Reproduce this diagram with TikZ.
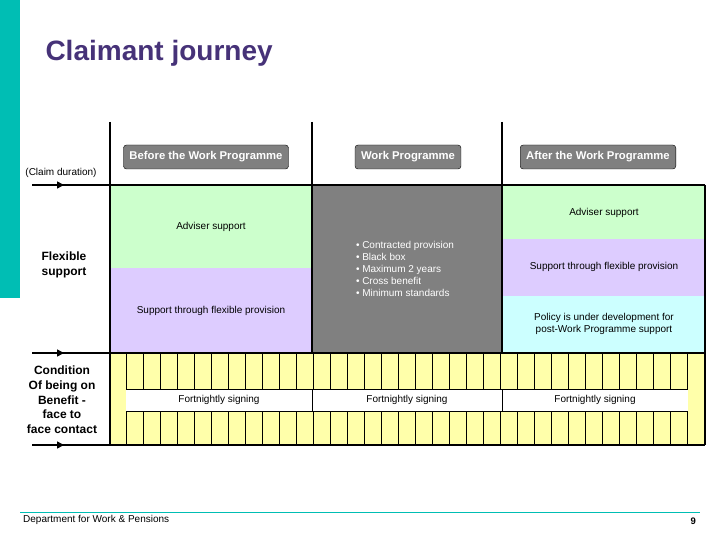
\documentclass[tikz,border=0pt]{standalone}
\usepackage{fontspec}
\setmainfont{Liberation Sans}
\usetikzlibrary{arrows.meta,calc}
\definecolor{teal1}{RGB}{0,190,180}
\definecolor{titc}{RGB}{70,50,120}
\definecolor{grn}{RGB}{204,255,204}
\definecolor{pur}{RGB}{221,204,255}
\definecolor{cyn}{RGB}{204,255,255}
\definecolor{gry}{RGB}{128,128,128}
\definecolor{yel}{RGB}{255,255,170}
\begin{document}
\begin{tikzpicture}[x=1pt,y=-1pt,
  txt/.style={font=\fontsize{10}{12}\selectfont,align=center,inner sep=0},
  bold/.style={font=\fontsize{12}{14.7}\selectfont\bfseries,align=center,inner sep=0},
  hdr/.style={draw=black,fill=gry,rounded corners=3pt,text=white,font=\fontsize{11.3}{12}\selectfont\bfseries,minimum height=24pt,inner xsep=6pt},
  arr/.style={line width=1.6pt,-{Triangle[length=7pt,width=7pt]}},
  ln/.style={line width=1.6pt}]
\useasboundingbox (0,0) rectangle (720,540);
\fill[teal1] (0,0) rectangle (20,298);
\node[anchor=west,text=titc,font=\fontsize{28}{32}\selectfont\bfseries] (title) at (42,53) {Claimant journey};
% fills
\fill[grn] (110,185) rectangle (312,268);
\fill[pur] (110,268) rectangle (312,353);
\fill[gry] (312,185) rectangle (502,353);
\fill[grn] (502,185) rectangle (705,239);
\fill[pur] (502,239) rectangle (705,296);
\fill[cyn] (502,296) rectangle (705,353);
\fill[yel] (110,353) rectangle (705,445);
\foreach \i in {0,...,33} \draw[line width=0.5pt] ({126+17*\i},353) -- ({126+17*\i},445);
\fill[white] (126,389) rectangle (688,411);
\draw[line width=0.5pt] (126,389) -- (688,389) (126,411) -- (688,411) (312,389) -- (312,411) (502,389) -- (502,411);
% frame lines
\draw[ln] (110,122) -- (110,445) (312,122) -- (312,353) (502,122) -- (502,353) (705,185) -- (705,445);
\draw[ln] (110,185) -- (705,185) (110,353) -- (705,353) (110,445) -- (705,445);
\foreach \n/\y in {a/185,b/353,c/445}{
  \coordinate (\n s) at (32,\y); \coordinate (\n m) at (64,\y); \coordinate (\n e) at (110,\y);
  \draw[ln] (\n s) -- (\n e);
  \draw[arr] (\n s) -- (\n m);
}
% headers
\node[hdr] (h1) at (206,157) {Before the Work Programme};
\node[hdr] (h2) at (408,157) {Work Programme};
\node[hdr] (h3) at (598,157) {After the Work Programme};
\node[txt] (cd) at (61,173) {(Claim duration)};
% texts
\node[txt] (t1) at (211,227) {Adviser support};
\node[txt] (t2) at (211,311) {Support through flexible provision};
\node[txt,align=left,text=white] (t3) at (405,269) {\textbullet\ Contracted provision\\ \textbullet\ Black box\\ \textbullet\ Maximum 2 years\\ \textbullet\ Cross benefit\\ \textbullet\ Minimum standards};
\node[txt] (t4) at (604,213) {Adviser support};
\node[txt] (t5) at (604,267) {Support through flexible provision};
\node[txt] (t6) at (604,324) {Policy is under development for\\post-Work Programme support};
\node[txt] (f1) at (219,400) {Fortnightly signing};
\node[txt] (f2) at (407,400) {Fortnightly signing};
\node[txt] (f3) at (595,400) {Fortnightly signing};
\node[bold] (fs) at (64,265) {Flexible\\support};
\node[bold] (cond) at (62,400) {Condition\\Of being on\\Benefit -\\face to\\face contact};
% footer
\draw[teal1,line width=0.6pt] (20,512) -- (700,512);
\node[txt,anchor=west] (dep) at (23,520) {Department for Work \& Pensions};
\node[txt,anchor=east,font=\fontsize{9.5}{10}\selectfont\bfseries] (pg) at (696,521) {9};
\end{tikzpicture}
\end{document}
